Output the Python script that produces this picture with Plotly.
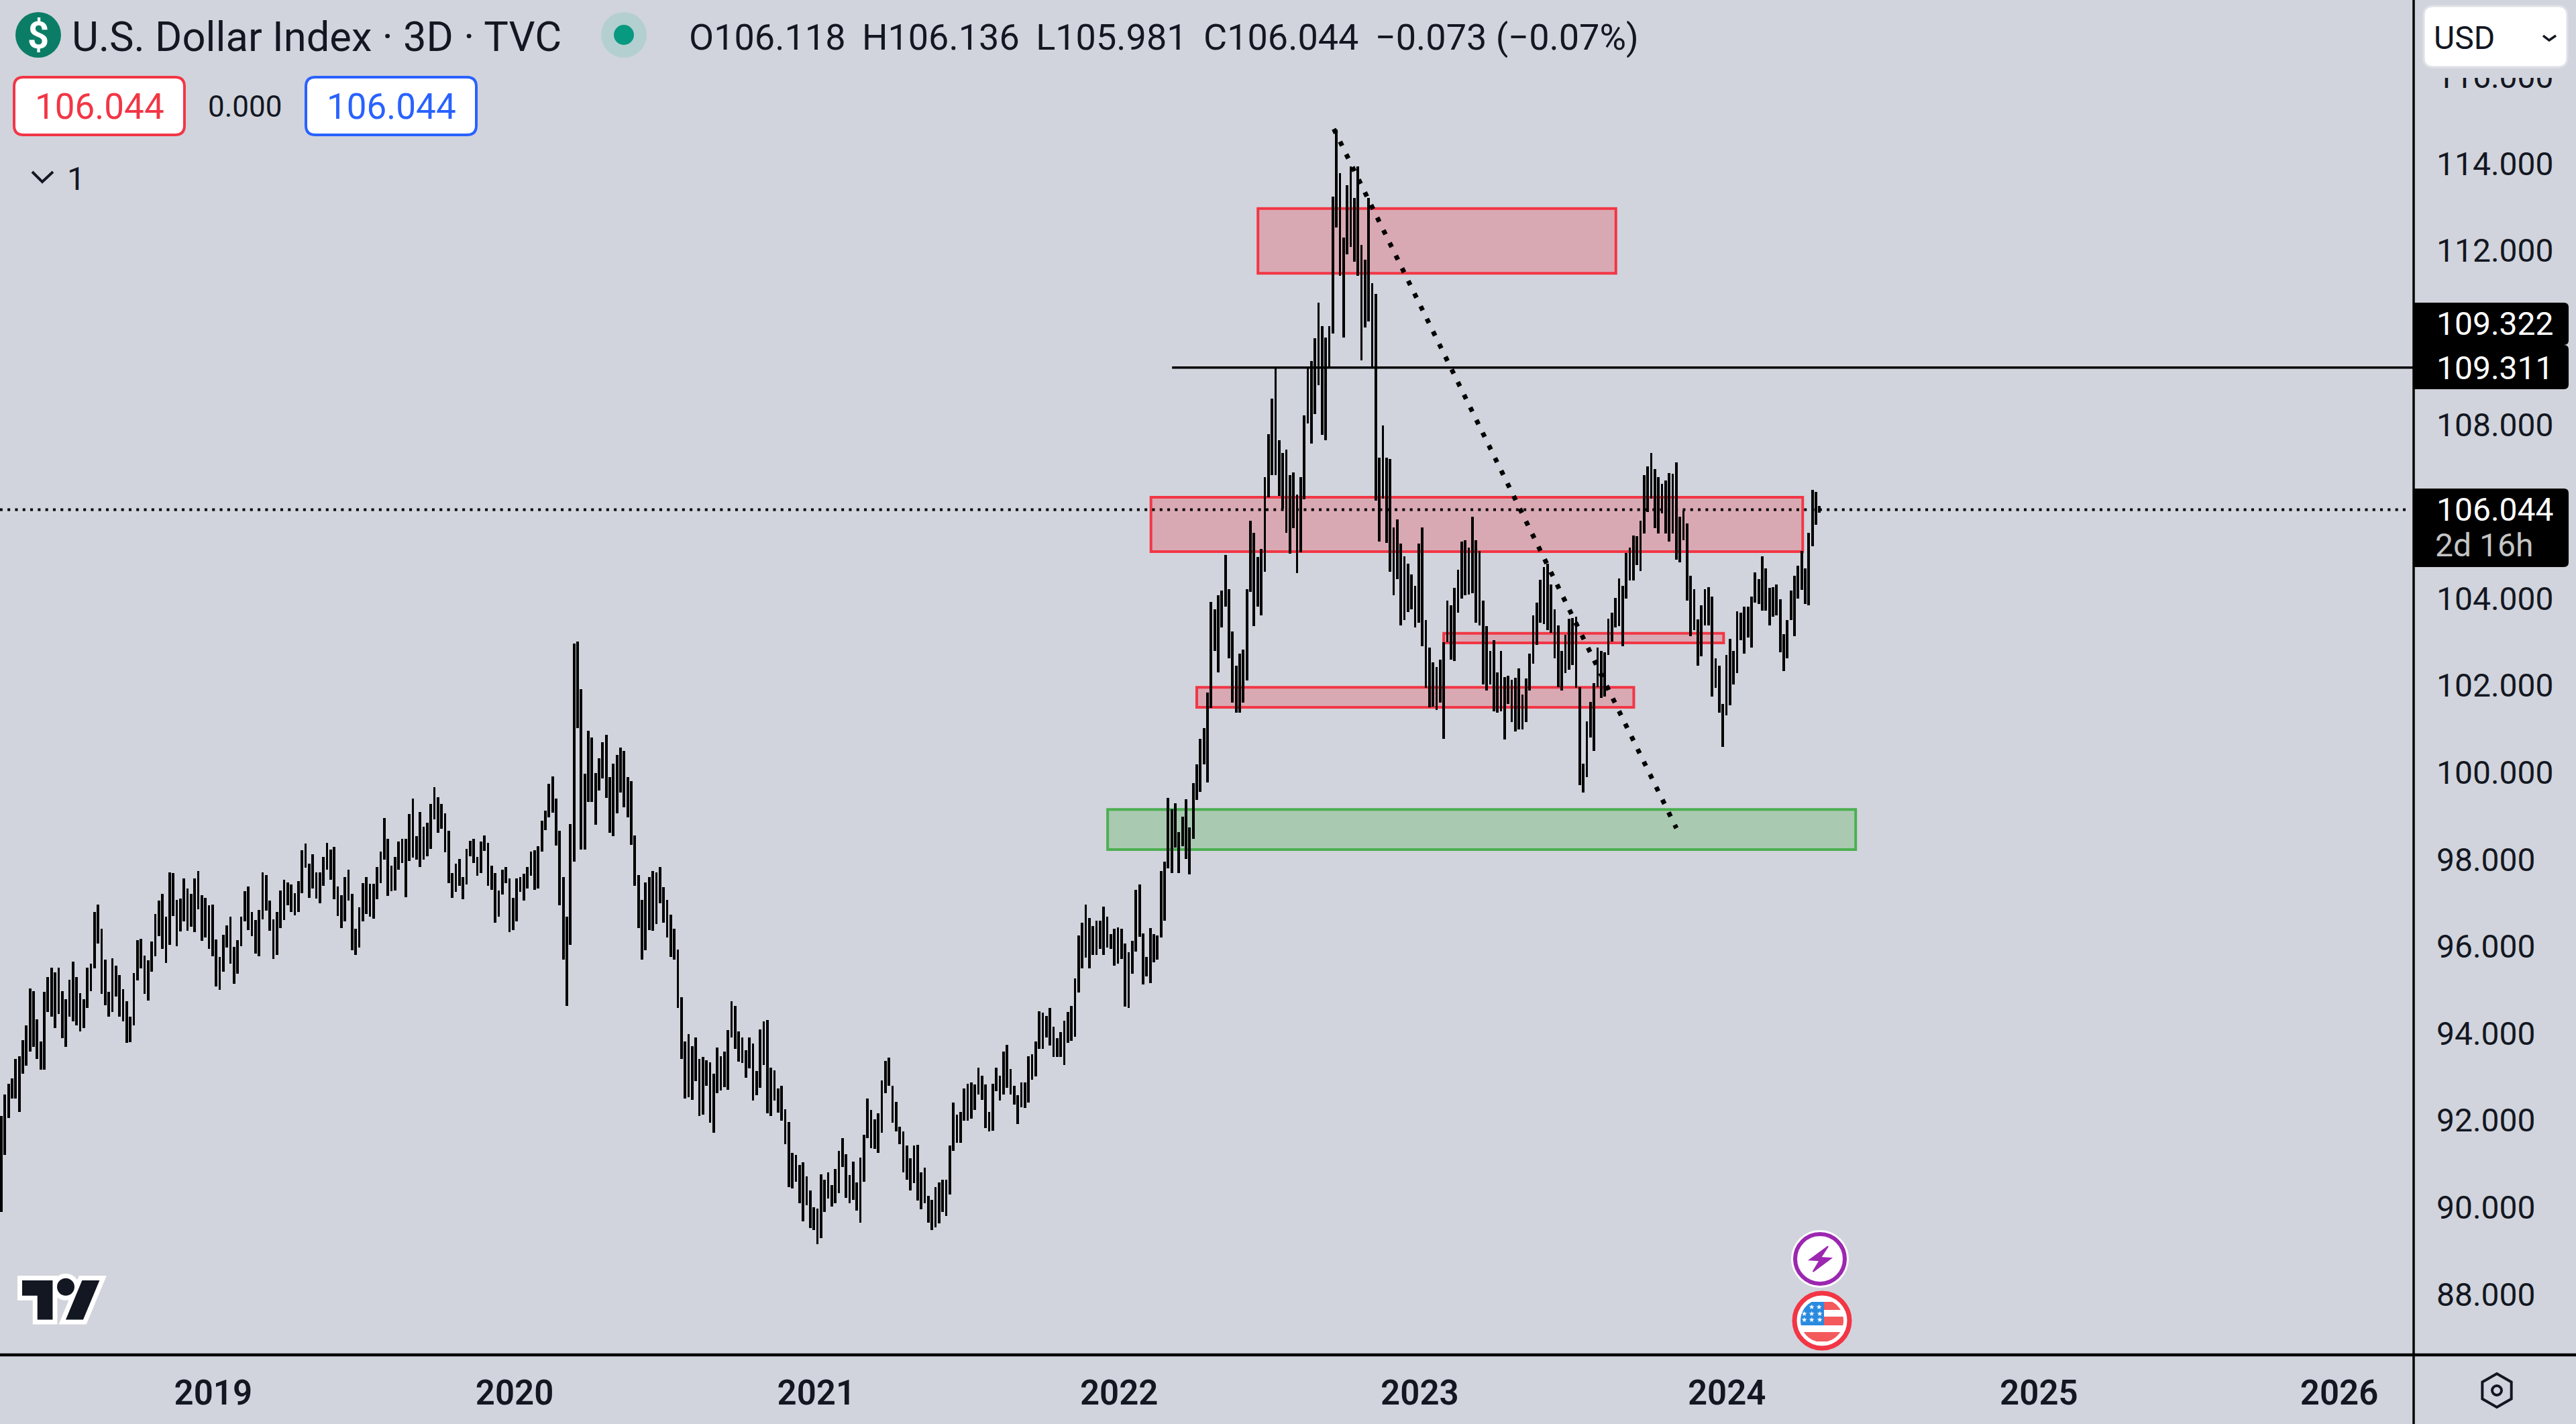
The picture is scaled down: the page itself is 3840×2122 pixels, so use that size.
import math
import plotly.graph_objects as go

# ---- data -----------------------------------------------------------------
bar_highs = [
92.1,92.6,92.84,92.97,93.41,93.47,93.85,94.19,95.04,94.98,94.32,93.82,94.96,95.3,95.52,95.41,95.52,94.98,94.78,95.24,
95.65,95.3,94.92,94.78,95.52,95.61,96.8,96.97,96.4,95.7,94.96,95.73,95.56,95.35,95.02,94.74,94.39,95.39,96.15,96.18,
95.79,95.68,96.11,96.75,97.05,97.21,96.69,97.71,97.69,97.07,97.1,97.57,97.34,97.21,97.57,97.74,97.18,97.12,96.95,96.97,
96.16,95.76,96.27,96.49,96.69,95.99,96.14,96.69,97.27,97.38,96.8,96.61,96.84,97.71,97.64,97.05,96.63,96.8,97.29,97.54,
97.47,97.42,97.22,97.51,98.21,98.36,97.91,98.12,97.71,97.71,98.06,98.38,98.23,98.29,97.38,97.18,97.59,97.77,97.21,96.4,
96.9,97.45,97.59,97.44,97.44,97.82,98.18,98.95,98.47,97.86,98.06,98.41,98.47,98.47,99.04,99.4,98.53,99.1,98.76,98.84,
99.28,99.67,99.43,99.28,99.06,98.66,97.69,97.91,98.02,97.59,98.25,98.43,98.47,98.06,98.41,98.55,98.38,97.86,97.69,97.29,
97.77,97.82,97.57,97.12,97.57,97.59,97.68,97.82,98.18,98.21,98.3,98.89,99.13,99.74,99.91,99.4,98.66,97.59,96.69,98.81,
102.96,103.01,101.91,99.97,100.96,100.81,99.99,100.32,100.69,100.87,99.89,100.2,100.41,100.58,100.5,99.89,99.8,98.55,97.64,97.07,
97.48,97.59,97.74,97.71,97.82,97.37,97.07,96.73,
96.4,95.93,94.84,93.82,93.99,93.71,93.91,93.41,93.46,93.38,93.33,93.07,93.67,93.47,93.59,94.08,94.74,94.63,94.05,93.91,
93.62,93.91,93.77,93.13,94.1,94.28,94.31,93.22,93.15,92.73,92.8,92.26,91.97,91.25,91.21,90.98,91.03,90.72,90.39,90.0,
89.97,90.76,90.64,90.81,90.52,90.88,91.3,91.6,91.23,90.74,91.06,90.57,91.15,91.67,92.51,92.24,92.02,92.16,92.92,93.37,
93.44,92.8,92.43,91.85,91.75,91.42,91.13,91.42,91.44,90.8,90.91,90.27,90.17,90.46,90.57,90.64,90.64,91.42,92.41,92.14,
92.19,92.73,92.85,92.87,92.83,93.22,93.03,92.83,92.19,92.85,93.22,93.03,93.59,93.74,93.18,92.8,92.58,92.87,92.88,93.47,
93.52,93.82,94.51,94.48,94.4,94.58,94.16,93.89,94.03,94.3,94.5,94.63,95.27,96.25,96.54,96.96,96.66,96.47,96.59,96.59,
96.91,96.69,96.28,96.4,96.44,96.4,96.07,95.86,96.13,97.3,97.43,96.3,95.76,96.43,96.28,96.25,97.73,97.95,99.42,99.15,
99.3,98.63,98.99,99.38,98.74,99.76,100.19,100.78,101.02,101.84,
103.92,103.76,104.07,104.18,105.01,104.22,103.25,102.45,102.74,102.82,104.22,105.79,105.51,104.95,105.14,106.79,107.78,108.6,109.3,107.64,
107.35,107.43,106.84,106.9,106.39,106.79,108.22,109.3,109.47,109.99,110.81,110.26,110.01,110.27,113.24,114.79,113.79,112.31,113.5,113.94,
113.21,113.94,112.14,111.79,113.22,111.26,111.01,107.24,107.98,107.24,107.21,105.64,105.82,105.26,104.97,104.8,104.55,104.29,105.26,105.64,
103.5,102.88,102.54,102.43,102.6,103.0,103.95,103.84,104.24,104.66,105.31,105.34,105.17,105.88,105.35,105.09,103.95,103.36,102.79,103.05,
102.31,102.8,102.2,102.22,102.14,102.18,102.4,101.8,102.17,102.74,103.62,103.9,104.43,104.73,104.8,104.32,103.75,103.39,102.8,103.16,
103.54,103.56,103.58,101.97,100.2,101.18,101.63,102.05,102.88,102.8,102.77,103.54,103.67,104.01,104.46,104.29,105.05,105.17,105.45,105.43,
105.79,106.84,107.04,107.35,106.98,106.79,106.64,106.71,106.88,106.87,107.13,105.88,106.02,105.73,104.52,104.22,103.52,103.84,104.22,104.27,
104.05,102.62,102.45,101.58,102.71,103.08,102.79,103.71,103.67,103.81,103.81,104.05,104.6,104.44,104.97,104.69,104.24,104.26,104.32,103.98,
103.18,103.5,104.18,104.52,104.75,105.09,104.69,105.52,106.5,106.45,106.136]
bar_lows = [
89.9,91.2,92.06,92.5,92.5,92.2,93.08,93.26,93.58,93.69,93.41,93.17,93.17,94.5,94.39,94.13,94.44,93.89,93.69,94.39,
94.28,94.19,94.04,94.13,94.59,94.97,95.5,96.07,94.91,94.65,94.39,94.5,94.85,94.39,94.28,93.79,93.8,94.19,95.22,95.5,
94.91,94.76,95.42,95.77,96.24,95.94,95.62,96.04,96.7,96.01,96.35,96.58,96.36,96.46,96.33,96.85,96.13,96.21,95.94,95.77,
95.08,95.0,95.42,95.98,95.61,95.14,95.37,96.01,96.58,96.38,96.24,95.83,95.77,96.62,96.83,96.36,95.72,95.81,96.42,96.61,
96.94,96.8,96.72,96.79,97.23,97.81,97.11,97.34,97.1,96.99,97.4,97.77,97.53,97.09,96.7,96.42,96.57,97.05,95.92,95.81,
95.98,96.57,96.75,96.68,96.64,97.09,97.45,97.99,97.17,97.27,97.28,97.77,97.92,97.14,97.96,98.05,97.99,97.82,97.99,98.08,
98.24,98.93,98.62,98.71,98.16,97.45,97.11,97.26,97.4,97.09,97.43,98.07,97.92,97.62,97.69,98.19,97.4,97.31,96.55,96.68,
97.2,97.45,96.33,96.37,96.58,97.26,97.05,97.34,97.62,97.31,97.34,98.18,98.67,98.97,99.08,98.32,96.94,95.7,94.63,96.04,
97.95,101.02,98.23,98.23,99.32,99.32,98.8,99.58,99.87,99.41,98.62,98.54,99.06,99.54,99.2,98.97,98.33,97.4,96.42,95.7,
95.92,96.38,96.36,96.51,97.0,96.55,96.21,95.76,
95.69,94.58,93.42,92.51,92.54,92.48,92.9,92.1,92.14,92.8,91.95,91.72,92.63,92.69,92.76,92.71,93.91,93.64,93.35,93.32,
92.98,93.2,92.46,92.58,92.75,93.27,92.16,92.1,92.46,92.18,91.99,91.45,90.47,90.44,90.59,90.1,89.68,90.05,89.53,89.48,
89.16,89.29,89.9,90.2,90.02,90.1,90.32,90.93,90.22,90.1,90.18,89.92,89.65,90.59,91.6,91.36,91.35,91.26,91.72,92.63,
92.8,91.95,91.75,91.45,90.81,90.64,90.39,90.56,90.15,89.95,90.1,89.65,89.48,89.54,89.63,89.9,89.8,90.29,91.3,91.49,
91.49,91.99,91.99,92.04,92.24,92.6,92.48,91.82,91.75,91.77,92.68,92.46,92.59,92.75,92.59,92.36,91.92,92.31,92.29,92.41,
92.93,93.02,93.64,93.64,93.91,93.72,93.46,93.46,93.46,93.27,93.79,93.83,93.93,94.94,95.49,95.74,95.49,95.8,95.8,95.95,
95.8,95.97,95.95,95.56,95.61,95.71,94.62,94.59,95.38,95.88,96.22,95.12,95.31,95.15,95.64,95.69,96.2,96.59,97.8,97.69,
98.27,97.69,98.3,98.02,97.66,98.48,99.37,99.55,100.19,99.77,
101.49,102.79,102.31,103.33,103.82,102.62,101.61,101.38,101.37,101.61,102.11,104.16,103.37,103.82,103.62,104.61,106.33,106.84,106.84,106.36,
106.07,105.51,105.03,105.62,104.58,105.06,106.28,108.03,107.56,108.24,108.9,107.77,107.64,109.3,110.1,112.53,111.43,110.01,111.92,112.09,
111.75,111.43,109.48,110.24,110.38,109.3,106.25,105.31,106.3,105.28,104.61,104.07,104.44,103.39,103.5,103.69,103.75,103.33,103.45,102.9,
101.95,101.5,101.52,101.44,101.61,100.78,103.0,102.6,102.56,103.67,104.0,104.07,104.09,104.12,103.45,103.39,102.03,101.89,102.03,101.41,
101.37,101.41,100.76,101.58,101.16,100.95,100.99,100.99,101.16,101.89,102.5,102.94,103.45,103.42,103.27,103.22,102.62,101.97,101.89,102.28,
102.37,102.48,101.95,99.71,99.54,99.9,100.81,100.5,101.97,101.72,101.75,102.71,103.02,103.33,103.36,102.9,104.0,104.41,104.41,104.77,
104.63,105.49,105.99,106.3,105.62,105.49,105.96,105.49,105.31,105.49,104.9,104.83,105.34,103.96,103.14,103.27,102.45,102.68,103.39,103.39,
101.75,101.95,101.38,100.59,101.32,101.54,102.03,102.28,103.05,102.73,103.1,102.88,103.9,103.87,103.73,103.73,103.39,103.58,103.62,102.77,
102.34,102.62,103.5,103.14,104.0,104.2,103.87,103.84,105.2,105.69,105.981]

year_labels = ["2019", "2020", "2021", "2022", "2023", "2024", "2025", "2026"]
year_positions = [59.2, 143.4, 227.7, 312.3, 396.3, 482.1, 569.3, 653.2]
price_ticks = [88, 90, 92, 94, 96, 98, 100, 102, 104, 106, 108, 112, 114, 116]

# zones: (first bar position, last bar position, top price, bottom price)
red_zones = [(351.1, 451.1, 112.97, 111.48),
             (321.2, 503.3, 106.33, 105.08),
             (403.0, 481.2, 103.2, 102.98),
             (334.0, 456.1, 101.96, 101.5)]
green_zones = [(309.1, 518.1, 99.15, 98.23)]
resistance_price = 109.311
resistance_start = 327.1
last_price = 106.044
trend_x = [372.3, 468.0]
trend_y = [114.8, 98.72]

W, H = 3840, 2122
AXIS_X, AXIS_Y = 3598, 2019
BG = "#d1d4dc"
INK = "#131722"
RED = "#f23645"
BLUE = "#2962ff"
FONT = "Roboto"

def X(px): return px / W
def Y(py): return 1 - py / H

def ppath(points):
    return "M" + " L".join(f"{X(a):.5f},{Y(b):.5f}" for a, b in points) + " Z"

def rrect(x0, y0, x1, y1, r, tl=True, tr=True, br=True, bl=True):
    tlr, trr, brr, blr = [r if c else 0 for c in (tl, tr, br, bl)]
    return (f"M{X(x0+tlr):.5f},{Y(y0):.5f} L{X(x1-trr):.5f},{Y(y0):.5f} "
            f"Q{X(x1):.5f},{Y(y0):.5f} {X(x1):.5f},{Y(y0+trr):.5f} "
            f"L{X(x1):.5f},{Y(y1-brr):.5f} Q{X(x1):.5f},{Y(y1):.5f} {X(x1-brr):.5f},{Y(y1):.5f} "
            f"L{X(x0+blr):.5f},{Y(y1):.5f} Q{X(x0):.5f},{Y(y1):.5f} {X(x0):.5f},{Y(y1-blr):.5f} "
            f"L{X(x0):.5f},{Y(y0+tlr):.5f} Q{X(x0):.5f},{Y(y0):.5f} {X(x0+tlr):.5f},{Y(y0):.5f} Z")

shapes = []
ann = []

def path_shape(path, fill=None, line=None, lw=0):
    shapes.append(dict(type="path", xref="paper", yref="paper", path=path, layer="above",
                       fillcolor=fill or "rgba(0,0,0,0)",
                       line=dict(color=line or "rgba(0,0,0,0)", width=lw)))

def circle(cx, cy, r, fill=None, line=None, lw=0):
    shapes.append(dict(type="circle", xref="paper", yref="paper", layer="above",
                       x0=X(cx-r), x1=X(cx+r), y0=Y(cy+r), y1=Y(cy-r),
                       fillcolor=fill or "rgba(0,0,0,0)",
                       line=dict(color=line or "rgba(0,0,0,0)", width=lw)))

def text(px, py, s, size, color=INK, anchor="left", weight=400):
    ann.append(dict(xref="paper", yref="paper", x=X(px), y=Y(py), text=s, showarrow=False,
                    xanchor=anchor, yanchor="middle", borderpad=0,
                    font=dict(family=FONT, size=size, color=color, weight=weight)))

# price zones
for x0, x1, top, bot in red_zones:
    shapes.append(dict(type="rect", xref="x", yref="y", x0=x0, x1=x1, y0=bot, y1=top, layer="below",
                       fillcolor="rgba(242,54,69,0.27)", line=dict(color=RED, width=4)))
for x0, x1, top, bot in green_zones:
    shapes.append(dict(type="rect", xref="x", yref="y", x0=x0, x1=x1, y0=bot, y1=top, layer="below",
                       fillcolor="rgba(76,175,80,0.3)", line=dict(color="#4caf50", width=4)))

# level lines
shapes.append(dict(type="line", xref="x", yref="y", x0=resistance_start, x1=674, y0=resistance_price,
                   y1=resistance_price, layer="above", line=dict(color="#000000", width=3.5)))
shapes.append(dict(type="line", xref="x", yref="y", x0=-0.4, x1=672, y0=last_price, y1=last_price,
                   layer="above", line=dict(color="#000000", width=4, dash="4px,7.3px")))
shapes.append(dict(type="line", xref="x", yref="y", x0=trend_x[0], x1=trend_x[1], y0=trend_y[0],
                   y1=trend_y[1], layer="above", line=dict(color="#000000", width=7, dash="7px,14px")))

# frame lines
shapes.append(dict(type="line", xref="paper", yref="paper", x0=X(AXIS_X), x1=X(AXIS_X), y0=0, y1=1,
                   layer="above", line=dict(color="#000000", width=3.5)))
shapes.append(dict(type="line", xref="paper", yref="paper", x0=0, x1=1, y0=Y(AXIS_Y), y1=Y(AXIS_Y),
                   layer="above", line=dict(color="#000000", width=4.5)))

# price labels on the axis
path_shape(rrect(AXIS_X, 451, 3829, 514, 7, tl=False, bl=False), fill="#000000")
path_shape(rrect(AXIS_X, 514, 3829, 580, 7, tl=False, bl=False), fill="#000000")
path_shape(rrect(AXIS_X, 728, 3829, 845, 7, tl=False, bl=False), fill="#000000")
text(3631, 482, "109.322", 48, "#ffffff")
text(3631, 548, "109.311", 48, "#ffffff")
text(3631, 760, "106.044", 48, "#ffffff")
text(3629, 812, "2d 16h", 48, "#c4c4c4")

# currency button, with a mask that trims the topmost tick label
shapes.append(dict(type="rect", xref="paper", yref="paper", layer="above", x0=X(3601), x1=1, y0=Y(116), y1=1,
                   fillcolor=BG, line=dict(width=0)))
path_shape(rrect(3613, 9, 3827, 100, 14), fill="#ffffff", line="#dfe1e8", lw=3)
text(3627, 57, "USD", 48)
path_shape(f"M{X(3791):.5f},{Y(53):.5f} L{X(3800):.5f},{Y(60):.5f} L{X(3810):.5f},{Y(53):.5f}", line=INK, lw=3.5)

# header
circle(57, 52, 34, fill="#0b7d66")
text(57, 53, "$", 56, "#ffffff", "center", 700)
text(106, 55, "U.S. Dollar Index · 3D · TVC", 61.5)
circle(930, 52, 34, fill="#b4cfd0")
circle(930, 52, 15, fill="#089981")
text(1026, 55, "O106.118&#8201; H106.136&#8201; L105.981&#8201; C106.044&#8201; −0.073 (−0.07%)", 54)

path_shape(rrect(21, 115, 275, 201, 14), fill="#ffffff", line=RED, lw=4)
text(148, 159, "106.044", 53, RED, "center")
text(365, 159, "0.000", 44, INK, "center")
path_shape(rrect(456, 115, 710, 201, 14), fill="#ffffff", line=BLUE, lw=4)
text(583, 159, "106.044", 53, BLUE, "center")
path_shape(f"M{X(48):.5f},{Y(256):.5f} L{X(63):.5f},{Y(271):.5f} L{X(79):.5f},{Y(256):.5f}", line=INK, lw=4)
text(99, 266, "1", 48)

# TradingView mark
LX, LY, LS = 33, 1908, 3.25
def lp(pts): return ppath([(LX + a * LS, LY + (b - 4) * LS) for a, b in pts])
t_pts = [(0, 4), (14, 4), (14, 22), (7, 22), (7, 11), (0, 11)]
s_pts = [(20, 22), (27.5, 4), (35.5, 4), (28, 22)]
path_shape(lp(t_pts), fill="#ffffff", line="#ffffff", lw=14)
path_shape(lp(s_pts), fill="#ffffff", line="#ffffff", lw=14)
circle(LX + 20 * LS, LY + 3 * LS, 4 * LS + 7, fill="#ffffff")
path_shape(lp(t_pts), fill=INK)
path_shape(lp(s_pts), fill=INK)
circle(LX + 20 * LS, LY + 3 * LS, 4 * LS, fill=INK)

# event bubbles
circle(2713, 1876, 43, fill="#ffffff")
circle(2713, 1876, 37, fill="#ffffff", line="#9c27b0", lw=6)
bolt = [(375, 172), (293, 232), (338, 235), (308, 285), (388, 225), (342, 222)]
path_shape(ppath([(2600 + a / 3, 1800 + b / 3) for a, b in bolt]), fill="#9c27b0", line="#9c27b0", lw=2)

FX, FY = 2716, 1968
circle(FX, FY, 41, fill="#ffffff", line=RED, lw=7)
def band(y0, y1, xmin=-999, xmax=9999, r=32, steps=10):
    left, right = [], []
    for k in range(steps + 1):
        yy = y0 + (y1 - y0) * k / steps
        half = math.sqrt(max(r * r - (yy - FY) ** 2, 0))
        a = max(FX - half, xmin)
        b = min(FX + half, xmax)
        left.append((a, yy))
        right.append((max(a, b), yy))
    return ppath(left + right[::-1])
path_shape(band(1940, 1952, xmin=2719), fill="#f45a5c")
path_shape(band(1962, 1975, xmin=2719), fill="#f45a5c")
path_shape(band(1985, 1999), fill="#f45a5c")
path_shape(band(1940, 1975, xmax=2719), fill="#2a8ae0")
for yy, s, xx in [(1947, "★ ★", 2706), (1957, "★ ★ ★", 2701), (1966, "★ ★ ★", 2701)]:
    text(xx, yy, s, 10, "#ffffff", "center")

# settings mark
cx, cy, rr = 3722, 2072, 25
hexagon = [(cx + rr * math.sin(k * math.pi / 3), cy - rr * math.cos(k * math.pi / 3)) for k in range(6)]
path_shape(ppath(hexagon), line=INK, lw=4)
circle(cx, cy, 7, line=INK, lw=4)

bar_index = list(range(len(bar_highs)))
bar_span = [h - l for h, l in zip(bar_highs, bar_lows)]

fig = go.Figure(go.Bar(x=bar_index, y=bar_span, base=bar_lows, width=0.7,
                       marker=dict(color="#000000", line=dict(width=0)), hoverinfo="skip"))

fig.update_layout(
    width=W, height=H, margin=dict(l=0, r=0, t=0, b=0), autosize=False,
    paper_bgcolor=BG, plot_bgcolor=BG, showlegend=False, bargap=0,
    shapes=shapes, annotations=ann,
    xaxis=dict(domain=[0, AXIS_X / W], range=[-0.375, 674.0], showgrid=False, zeroline=False,
               tickmode="array", tickvals=year_positions, ticktext=year_labels, ticks="",
               ticklabelstandoff=22, showline=False,
               tickfont=dict(family=FONT, size=51, color=INK, weight=600)),
    yaxis=dict(domain=[Y(AXIS_Y), 1], range=[114 - (AXIS_Y - 244) / 64.8, 114 + 244 / 64.8],
               side="right", showgrid=False, zeroline=False, ticks="", showline=False,
               tickmode="array", tickvals=price_ticks, ticktext=[f"{v}.000" for v in price_ticks],
               ticklabelstandoff=33,
               tickfont=dict(family=FONT, size=48, color=INK)),
)

fig.write_html("out.html", config=dict(displayModeBar=False),
               post_script="document.body.style.margin='0';document.body.style.overflow='hidden';")
